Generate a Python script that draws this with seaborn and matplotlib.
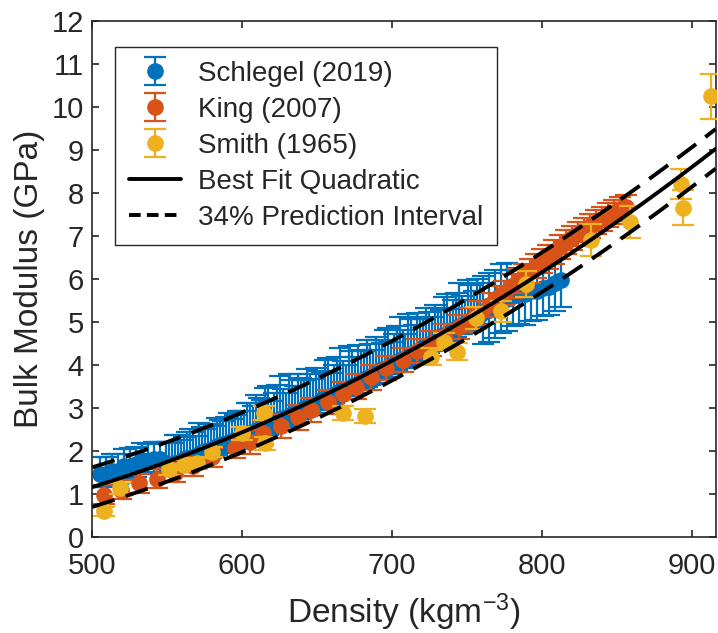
import numpy as np
import pandas as pd
import matplotlib
matplotlib.use("Agg")
import matplotlib.pyplot as plt
import seaborn as sns
from matplotlib.lines import Line2D

# ---------------- data ----------------
schlegel_x = [505, 509, 513, 517, 521, 525, 529, 533, 537, 541, 545,
              549, 553, 557, 561, 565, 569, 573, 577, 581, 585, 589, 593,
              597, 601, 605, 609, 613, 617, 621, 625, 629, 633, 637, 641,
              645, 649, 653, 657, 661, 665, 669, 673, 677, 681, 685, 689,
              693, 697, 701, 705, 709, 713, 717, 721, 725, 729, 733, 737,
              741, 745, 749, 753, 757, 761, 765, 769, 773, 777, 781, 785,
              789, 793, 797, 801, 805, 809, 813]
schlegel_y = [1.46, 1.46, 1.53, 1.54, 1.64, 1.66, 1.70, 1.79, 1.77, 1.81, 1.82,
              1.62, 1.70, 1.71, 1.81, 1.84, 1.89, 1.98, 1.99, 2.07, 2.15, 2.16, 2.24,
              2.26, 2.37, 2.41, 2.46, 2.56, 2.57, 2.66, 2.75, 2.76, 2.85, 2.88, 2.99,
              3.04, 3.09, 3.20, 3.22, 3.31, 3.40, 3.42, 3.52, 3.55, 3.67, 3.73, 3.79,
              3.90, 3.92, 4.03, 4.12, 4.15, 4.26, 4.29, 4.42, 4.48, 4.55, 4.67, 4.70,
              4.81, 4.91, 4.94, 5.05, 5.09, 5.23, 5.29, 5.37, 5.49, 5.53, 5.60, 5.65,
              5.64, 5.71, 5.71, 5.80, 5.82, 5.90, 5.98]
schlegel_err_lo = [0.30] * 11 + [0.20] * 53 + [0.75] * 5 + \
                  [0.70, 0.70, 0.70, 0.68, 0.66, 0.65, 0.65, 0.65, 0.62]
schlegel_err_hi = [0.40] * 11 + \
                  [0.60, 0.48, 0.66, 0.52, 0.68, 0.46, 0.58, 0.64, 0.50, 0.56,
                   0.62, 0.50, 0.66, 0.55, 0.70] + \
                  [0.85, 0.62, 0.95, 0.70, 1.00, 0.58, 0.80, 0.92, 0.66, 0.76,
                   0.85, 0.62, 0.95, 0.70, 1.00, 0.58, 0.80, 0.92, 0.66, 0.76,
                   0.85, 0.62, 0.95, 0.70, 1.00, 0.58, 0.80, 0.92, 0.66, 0.76,
                   0.85, 0.62, 0.95, 0.70, 1.00, 0.58, 0.80, 0.92] + \
                  [0.85] * 5 + [0.60] * 9

# second, interleaved part of the Schlegel set
schlegel_x2 = [551, 555, 559, 563, 567, 571, 575, 579, 583, 587, 591, 595, 599,
               603, 607, 611, 615, 619, 623, 627, 631, 635, 639, 643, 647, 651,
               655, 659, 663, 667, 671, 675, 679, 683, 687, 691, 695, 699, 703,
               707, 711, 715, 719, 723, 727, 731, 735, 739, 743, 747, 751, 755, 759]
schlegel_y2 = [1.66, 1.71, 1.76, 1.83, 1.87, 1.94, 1.99, 2.03, 2.11, 2.16, 2.20,
               2.25, 2.32, 2.39, 2.44, 2.51, 2.57, 2.62, 2.71, 2.76, 2.81, 2.87,
               2.94, 3.02, 3.07, 3.15, 3.21, 3.27, 3.36, 3.41, 3.47, 3.54, 3.61,
               3.70, 3.76, 3.85, 3.91, 3.98, 4.08, 4.14, 4.21, 4.28, 4.36, 4.45,
               4.52, 4.61, 4.69, 4.76, 4.86, 4.93, 5.00, 5.07, 5.16]
schlegel_err_lo2 = [0.20] * 53
schlegel_err_hi2 = [0.55, 0.66, 0.50, 0.62, 0.58, 0.70, 0.52, 0.60, 0.66, 0.54,
                    0.68, 0.58, 0.62, 0.72, 0.60] + \
                   [0.72, 0.90, 0.55, 0.82, 0.68, 0.98, 0.64, 0.75, 0.88, 0.60,
                    0.72, 0.90, 0.55, 0.82, 0.68, 0.98, 0.64, 0.75, 0.88, 0.60,
                    0.72, 0.90, 0.55, 0.82, 0.68, 0.98, 0.64, 0.75, 0.88, 0.60,
                    0.72, 0.90, 0.55, 0.82, 0.68, 0.98, 0.64, 0.75]

king_x = [507.5, 519, 531, 543, 555, 567, 580, 595, 605, 614, 626, 637, 646,
          657, 667, 676, 686, 696, 707, 717, 726, 735, 744.5, 752, 758, 764.6,
          770, 775, 780, 784, 788, 792, 796, 800, 804, 808, 812, 816, 820, 824,
          828, 832, 836, 840, 844, 848, 852, 856]
king_y = [0.98, 1.10, 1.25, 1.36, 1.50, 1.65, 1.85, 2.06, 2.22, 2.41, 2.58, 2.78,
          2.95, 3.15, 3.32, 3.50, 3.71, 3.92, 4.12, 4.33, 4.50, 4.68, 4.89, 5.05,
          5.20, 5.40, 5.55, 5.68, 5.83, 5.95, 6.06, 6.18, 6.30, 6.42, 6.52, 6.63,
          6.74, 6.85, 6.95, 7.05, 7.14, 7.23, 7.32, 7.40, 7.48, 7.56, 7.62, 7.68]
king_err = [0.22] * 8 + [0.28] * 40

smith_x = [507.5, 518.6, 551, 561, 570, 580, 600, 615.5, 614.4, 667.3, 682.3,
           725.8, 734.6, 743.4, 756, 772.6, 789.3, 832.6, 858.8, 893, 894, 913]
smith_y = [0.60, 1.13, 1.57, 1.67, 1.71, 1.98, 2.41, 2.18, 2.88, 2.88, 2.81,
           4.19, 4.54, 4.31, 5.09, 5.25, 5.89, 6.90, 7.33, 8.21, 7.66, 10.25]
smith_err = [0.10, 0.12, 0.12, 0.12, 0.12, 0.12, 0.15, 0.15, 0.17, 0.17, 0.17,
             0.20, 0.20, 0.20, 0.25, 0.25, 0.30, 0.37, 0.37, 0.35, 0.40, 0.52]

# quadratic fit: y = a*(x-x0)^2 + b*(x-x0) + c
fit_x0 = 500
fit_coef = [1.95e-5, 0.0108, 1.16]
pi_half = 0.46

labels = ["Schlegel (2019)", "King (2007)", "Smith (1965)",
          "Best Fit Quadratic", "34% Prediction Interval"]
colors = ["#0072BD", "#D95319", "#EDB120"]

# ---------------- style ----------------
sns.set_style("ticks")
plt.rcParams["font.family"] = ["Liberation Sans", "DejaVu Sans"]
plt.rcParams["mathtext.default"] = "regular"
axcol = "#262626"

fig = plt.figure(figsize=(7.18, 6.33), dpi=100)
ax = fig.add_axes([92.3 / 718, 1 - 537 / 633, (715.7 - 92.3) / 718, (537 - 21) / 633])

eb_kw = dict(fmt="o", ms=11, capsize=8, capthick=1.6, elinewidth=1.6)

# Schlegel: second part first (no label), then main part
ax.errorbar(schlegel_x2, schlegel_y2, yerr=[schlegel_err_lo2, schlegel_err_hi2],
            color=colors[0], mfc=colors[0], mec=colors[0], zorder=2, **eb_kw)
h_s = ax.errorbar(schlegel_x, schlegel_y, yerr=[schlegel_err_lo, schlegel_err_hi],
                  color=colors[0], mfc=colors[0], mec=colors[0], zorder=2,
                  label=labels[0], **eb_kw)
h_k = ax.errorbar(king_x, king_y, yerr=king_err, color=colors[1], mfc=colors[1],
                  mec=colors[1], zorder=3, label=labels[1], **eb_kw)
h_m = ax.errorbar(smith_x, smith_y, yerr=smith_err, color=colors[2], mfc=colors[2],
                  mec=colors[2], zorder=4, label=labels[2], **eb_kw)

xf = np.linspace(500, 916, 400)
yf = np.polyval(fit_coef, xf - fit_x0)
fit_df = pd.DataFrame({"x": xf, "fit": yf, "lo": yf - pi_half, "hi": yf + pi_half})

sns.lineplot(data=fit_df, x="x", y="fit", color="black", linewidth=2.8, ax=ax,
             zorder=6, sort=False)
for col_name in ["hi", "lo"]:
    sns.lineplot(data=fit_df, x="x", y=col_name, color="black", linewidth=2.8,
                 ax=ax, zorder=6, sort=False)
    ax.lines[-1].set_dashes((6, 3))

h_fit = Line2D([], [], color="black", linewidth=2.8)
h_pi = Line2D([], [], color="black", linewidth=2.8, dashes=(3, 1.6))
handles = [h_s, h_k, h_m, h_fit, h_pi]

ax.set_xlim(500, 916)
ax.set_ylim(0, 12)
ax.set_xticks([500, 600, 700, 800, 900])
ax.set_yticks(range(0, 13))
ax.tick_params(direction="in", length=5, width=1.2, top=True, right=True,
               labelsize=21, colors=axcol)
ax.tick_params(axis="x", pad=11)
ax.tick_params(axis="y", pad=6)
for s in ax.spines.values():
    s.set_color(axcol)
    s.set_linewidth(1.2)
    s.set_visible(True)

ax.set_xlabel("Density (kgm$^{-3}$)", fontsize=24, color=axcol, labelpad=8)
ax.set_ylabel("Bulk Modulus (GPa)", fontsize=24, color=axcol, labelpad=5)

leg = ax.legend(handles, labels, loc="upper left", bbox_to_anchor=(0.036, 0.95),
                borderaxespad=0, fontsize=20, frameon=True, fancybox=False,
                edgecolor=axcol, framealpha=1, handlelength=1.9,
                handletextpad=0.6, labelspacing=0.36, borderpad=0.5)
leg.get_frame().set_linewidth(1.0)

fig.savefig("out.png", dpi=100)
